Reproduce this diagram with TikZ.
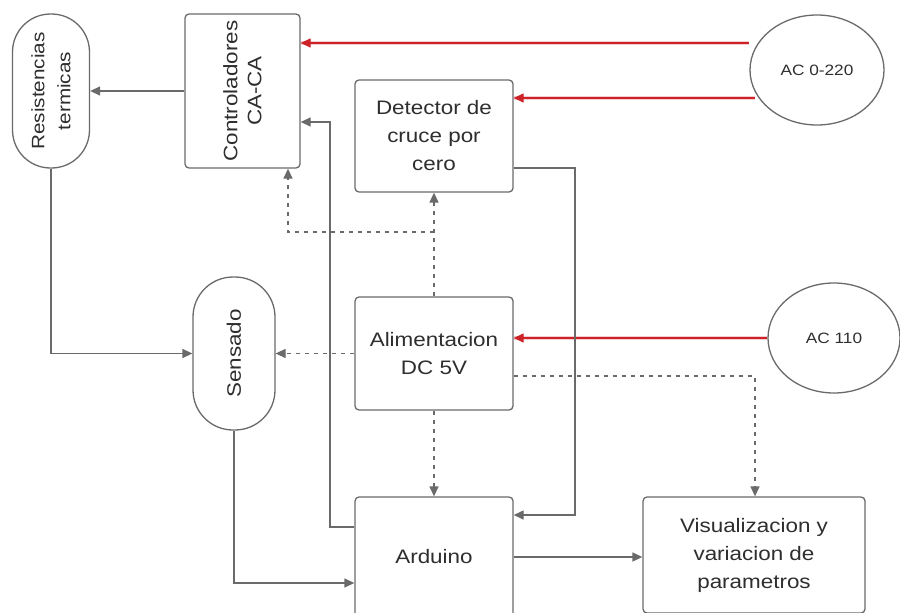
\documentclass[tikz,border=0pt]{standalone}
\usepackage{fontspec}
\setmainfont{Liberation Sans}[FakeStretch=1.15]
\usetikzlibrary{arrows.meta,shapes.geometric,calc}
\definecolor{ln}{HTML}{6A6A6A}
\definecolor{rd}{HTML}{CC2228}
\begin{document}
\begin{tikzpicture}[x=1pt,y=-1pt,
  txt/.style={align=center,font=\fontsize{19.5}{28}\selectfont,text=black!82},
  box/.style={draw=ln,line width=1.3pt,rounded corners=4pt,fill=white,inner sep=0pt,txt},
  pill/.style={draw=ln,line width=1.3pt,rounded corners=38pt,fill=white,inner sep=0pt},
  ell/.style={draw=ln,line width=1.3pt,ellipse,inner sep=0pt,font=\fontsize{15}{17}\selectfont,text=black!82},
  con/.style={draw=ln,line width=1.3pt,-{Triangle[length=10pt,width=9pt]}},
  dcon/.style={draw=ln,line width=1.3pt,dash pattern=on 4pt off 5pt,-{Triangle[length=10pt,width=9pt]}},
  rcon/.style={draw=rd,line width=1.3pt,preaction={draw=rd!22,line width=4pt,-},-{Triangle[length=10pt,width=9pt]}}]
\useasboundingbox (0,0) rectangle (900,613);
\node[pill,minimum width=77pt,minimum height=154pt] (res) at (51,91) {};
\node[rotate=90,txt,font=\fontsize{18}{26}\selectfont] at (res.center) {Resistencias\\termicas};
\node[box,minimum width=115pt,minimum height=154pt] (ctl) at (242.5,91) {};
\node[rotate=90,txt,font=\fontsize{19.5}{24}\selectfont] at (ctl.center) {Controladores\\CA-CA};
\node[box,minimum width=158pt,minimum height=112pt] (det) at (434,136) {Detector de\\cruce por\\cero};
\node[box,minimum width=158pt,minimum height=113pt] (ali) at (434,353.5) {Alimentacion\\DC 5V};
\node[pill,rounded corners=40pt,minimum width=82pt,minimum height=153pt] (sen) at (234,353.5) {};
\node[rotate=90,txt] at (sen.center) {Sensado};
\node[box,minimum width=158pt,minimum height=120pt] (ard) at (434,557) {Arduino};
\node[box,minimum width=222pt,minimum height=116pt] (vis) at (754,555) {Visualizacion y\\variacion de\\parametros};
\node[ell,minimum width=134pt,minimum height=110pt] (ac1) at (817,70) {AC 0-220};
\node[ell,minimum width=132pt,minimum height=110pt] (ac2) at (834,338) {AC 110};

\draw[con] (ctl.west) -- (res.east);
\draw[rcon] (ac1.west |- 0,43) -- (ctl.east |- 0,43);
\draw[rcon] ($(ac1.center)+(-62,28)$) -- (det.east |- 0,98);
\draw[rcon] (ac2.west) -- (ali.east |- ac2.west);
\draw[con] (ard.west |- 0,527) -| (330,122) -- (ctl.east |- 0,122);
\draw[con] (det.east |- 0,168) -| (575,515) -- (ard.east |- 0,515);
\draw[con] (res.south) |- (sen.west);
\draw[con] (sen.south) |- (ard.west |- 0,583);
\draw[con] (ard.east) -- (vis.west |- ard.east);
\draw[dcon] (ali.north) -- (det.south);
\draw[dcon] (434,232) -| (ctl.south -| 288,0);
\draw[dcon] (ali.west) -- (sen.east);
\draw[dcon] (ali.east |- 0,376) -| (vis.north -| 755,0);
\draw[dcon] (ali.south) -- (ard.north);
\end{tikzpicture}
\end{document}
